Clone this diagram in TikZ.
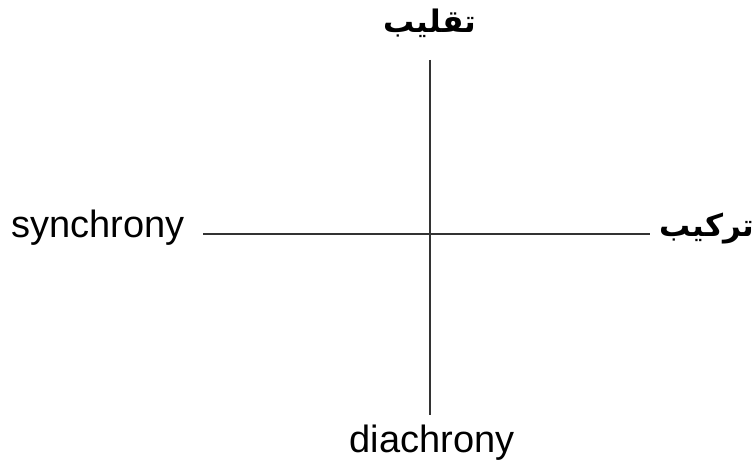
\documentclass[tikz,border=0pt]{standalone}
\usepackage{fontspec}
\setmainfont{Liberation Sans}
\newfontfamily\arabicfont[Script=Arabic]{DejaVu Sans}
\TeXXeTstate=1
\begin{document}
\begin{tikzpicture}[x=1pt,y=1pt,
  lbl/.style={inner sep=0pt, font=\fontsize{38}{44}\selectfont},
  arlbl/.style={inner sep=0pt, font=\arabicfont\bfseries\fontsize{31}{36}\selectfont},
  axis/.style={line width=1.3pt, draw=black!80}]
\useasboundingbox[fill=white] (0,0) rectangle (756,468);
\node[lbl] (syn) at (98,240) {synchrony};
\node[lbl] (dia) at (432,25) {diachrony};
\node[arlbl] (taq) at (430,445) {\beginR تقليب\endR};
\node[arlbl] (tar) at (707,239) {\beginR تركيب\endR};
\coordinate (hl) at (203,234);
\coordinate (hr) at (650,234);
\coordinate (vt) at (430,408);
\coordinate (vb) at (430,53);
\draw[axis] (hl) -- (hr);
\draw[axis] (vt) -- (vb);
\end{tikzpicture}
\end{document}
